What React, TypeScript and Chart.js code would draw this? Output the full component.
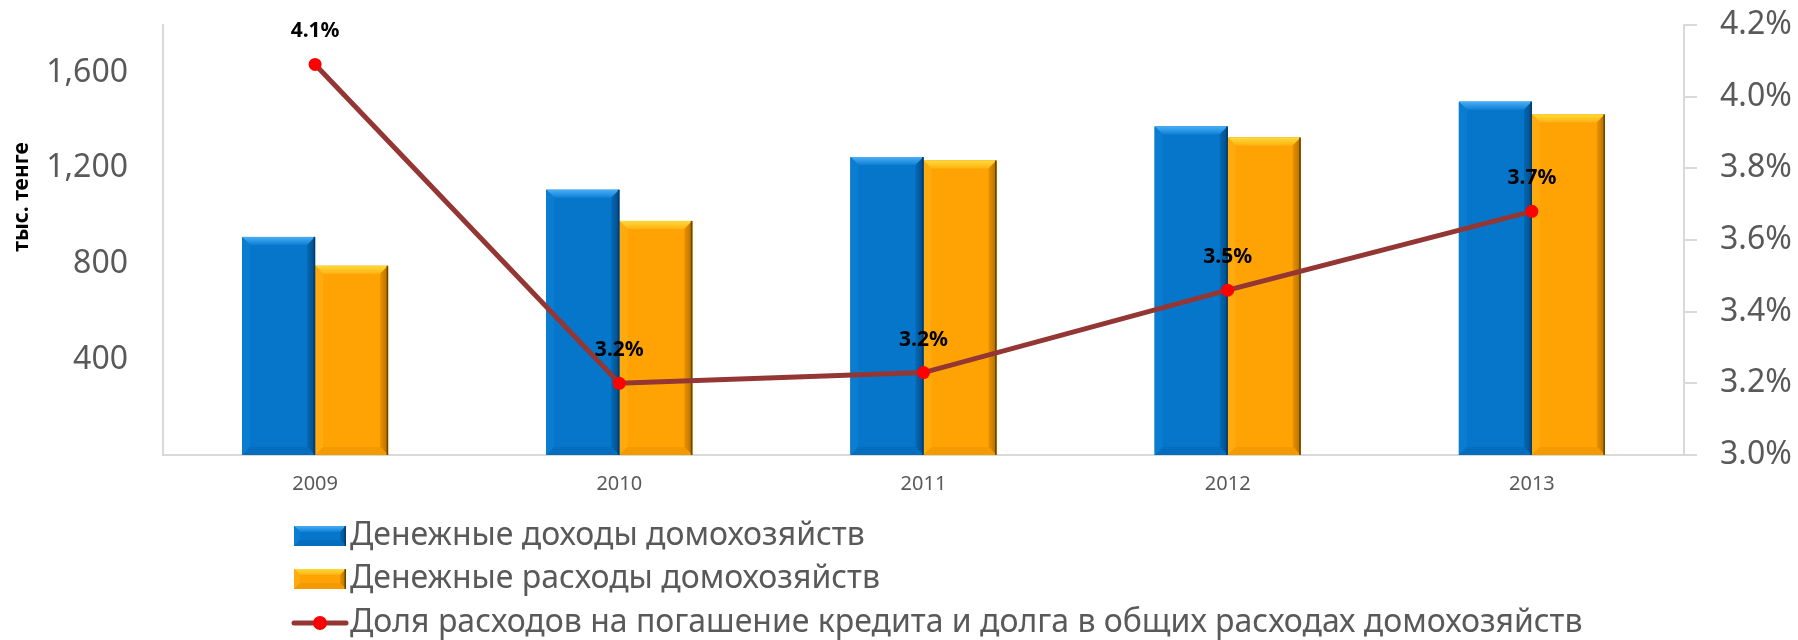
import React, { useEffect, useRef } from 'react';
import { Chart, registerables } from 'chart.js';

Chart.register(...registerables);

// ---- data ----
const years = ['2009', '2010', '2011', '2012', '2013'];
const incomeValues = [913, 1110, 1247, 1375, 1479];
const expenseValues = [792, 980, 1233, 1329, 1426];
const debtShareValues = [4.09, 3.2, 3.23, 3.46, 3.68];
const seriesNames = [
  'Денежные доходы домохозяйств',
  'Денежные расходы домохозяйств',
  'Доля расходов на погашение кредита и долга в общих расходах домохозяйств',
];
const yAxisTitle = 'тыс. тенге';

// ---- styles ----
const W = 1798;
const H = 640;
const FONT = "'Noto Sans', sans-serif";
const GRAY = '#595959';
const AXIS = '#D9D9D9';
const LINE_COLOR = '#943634';
const POINT_COLOR = '#FF0000';

type Pal = { main: string; topHi: string; top: string; left: string; right1: string; right2: string; bottom: string; edge: string };
const palettes: Pal[] = [
  { main: '#0576CA', topHi: '#4AAEF5', top: '#0E80D6', left: '#0A7DD1', right1: '#0568B4', right2: '#034C85', bottom: '#056DBD', edge: '#023E6E' },
  { main: '#FFA305', topHi: '#FFD93A', top: '#FFB412', left: '#FFAA0E', right1: '#E89200', right2: '#B36E00', bottom: '#F29A00', edge: '#6B4400' },
];

function bevel(ctx: CanvasRenderingContext2D, left: number, top: number, right: number, bottom: number, pal: Pal, b: number) {
  ctx.save();
  ctx.fillStyle = pal.main;
  ctx.fillRect(left, top, right - left, bottom - top);
  const poly = (pts: number[][], fill: string | CanvasGradient) => {
    ctx.beginPath();
    ctx.moveTo(pts[0][0], pts[0][1]);
    for (let i = 1; i < pts.length; i++) ctx.lineTo(pts[i][0], pts[i][1]);
    ctx.closePath();
    ctx.fillStyle = fill;
    ctx.fill();
  };
  const h = bottom - top;
  const bb = Math.min(b, h / 2, (right - left) / 2);
  const gTop = ctx.createLinearGradient(0, top, 0, top + bb);
  gTop.addColorStop(0, pal.topHi);
  gTop.addColorStop(1, pal.top);
  poly([[left, top], [right, top], [right - bb, top + bb], [left + bb, top + bb]], gTop);
  poly([[left, top], [left + bb, top + bb], [left + bb, bottom - bb], [left, bottom]], pal.left);
  const gR = ctx.createLinearGradient(right - bb, 0, right, 0);
  gR.addColorStop(0, pal.right1);
  gR.addColorStop(1, pal.right2);
  poly([[right, top], [right, bottom], [right - bb, bottom - bb], [right - bb, top + bb]], gR);
  poly([[left, bottom], [left + bb, bottom - bb], [right - bb, bottom - bb], [right, bottom]], pal.bottom);
  ctx.fillStyle = pal.edge;
  ctx.fillRect(right - 1.5, top, 1.5, h);
  ctx.restore();
}

const extrasPlugin = {
  id: 'extras',
  afterDatasetDraw(chart: any, args: any) {
    const meta = args.meta;
    if (meta.type !== 'bar') return;
    const pal = palettes[args.index];
    const ctx = chart.ctx;
    meta.data.forEach((el: any) => {
      const left = el.x - el.width / 2;
      const right = el.x + el.width / 2;
      const top = Math.min(el.y, el.base);
      const bottom = Math.max(el.y, el.base);
      bevel(ctx, left, top, right, bottom, pal, 8);
    });
  },
  afterDatasetsDraw(chart: any) {
    const ctx = chart.ctx;
    chart.data.datasets.forEach((ds: any, i: number) => {
      if (ds.type !== 'line') return;
      const meta = chart.getDatasetMeta(i);
      ctx.save();
      ctx.font = `bold 21px ${FONT}`;
      ctx.fillStyle = '#000000';
      ctx.textAlign = 'center';
      ctx.textBaseline = 'middle';
      meta.data.forEach((pt: any, j: number) => {
        ctx.fillText(Number(ds.data[j]).toFixed(1) + '%', pt.x, pt.y - 33);
      });
      ctx.restore();
    });
  },
  afterDraw(chart: any) {
    const ctx = chart.ctx;
    // y-axis title
    ctx.save();
    ctx.translate(22, 197);
    ctx.rotate(-Math.PI / 2);
    ctx.font = `bold 21px ${FONT}`;
    ctx.fillStyle = '#000000';
    ctx.textAlign = 'center';
    ctx.textBaseline = 'middle';
    ctx.fillText(yAxisTitle, 0, 0);
    ctx.restore();

    // legend (vertical list under the plot)
    const rowsY = [536, 579, 623];
    const sx = 294;
    const sw = 52;
    const sh = 20;
    const tx = 350;
    chart.data.datasets.forEach((ds: any, i: number) => {
      const cy = rowsY[i];
      if (ds.type === 'line') {
        ctx.save();
        ctx.strokeStyle = ds.borderColor;
        ctx.lineWidth = 5;
        ctx.lineCap = 'round';
        ctx.beginPath();
        ctx.moveTo(sx, cy);
        ctx.lineTo(sx + sw, cy);
        ctx.stroke();
        ctx.fillStyle = ds.pointBackgroundColor;
        ctx.beginPath();
        ctx.arc(sx + sw / 2, cy, 7, 0, Math.PI * 2);
        ctx.fill();
        ctx.restore();
      } else {
        bevel(ctx, sx, cy - sh / 2, sx + sw, cy + sh / 2, palettes[i], 6);
      }
      ctx.save();
      ctx.font = `32px ${FONT}`;
      ctx.fillStyle = GRAY;
      ctx.textAlign = 'left';
      ctx.textBaseline = 'middle';
      ctx.fillText(ds.label, tx, cy);
      ctx.restore();
    });
  },
};

const noPad = (s: any) => {
  s.paddingTop = 0;
  s.paddingBottom = 0;
};

export default function App() {
  const ref = useRef<HTMLCanvasElement | null>(null);
  useEffect(() => {
    if (!ref.current) return;
    const chart = new Chart(ref.current, {
      type: 'bar',
      data: {
        labels: years,
        datasets: [
          {
            type: 'bar',
            label: seriesNames[0],
            data: incomeValues,
            backgroundColor: palettes[0].main,
            yAxisID: 'y',
            order: 1,
            barPercentage: 1,
            categoryPercentage: 0.48,
          },
          {
            type: 'bar',
            label: seriesNames[1],
            data: expenseValues,
            backgroundColor: palettes[1].main,
            yAxisID: 'y',
            order: 1,
            barPercentage: 1,
            categoryPercentage: 0.48,
          },
          {
            type: 'line',
            label: seriesNames[2],
            data: debtShareValues,
            yAxisID: 'y1',
            order: 0,
            borderColor: LINE_COLOR,
            borderWidth: 5,
            tension: 0,
            fill: false,
            pointRadius: 6.5,
            pointBackgroundColor: POINT_COLOR,
            pointBorderColor: POINT_COLOR,
            pointBorderWidth: 0,
          },
        ] as any,
      },
      options: {
        responsive: false,
        animation: false,
        layout: { padding: { top: 25, left: 0, right: 0, bottom: 0 } },
        plugins: {
          legend: { display: false },
          tooltip: { enabled: false },
        },
        scales: {
          x: {
            grid: { display: false, drawTicks: false },
            border: { display: true, color: AXIS, width: 2 },
            ticks: { color: GRAY, font: { family: FONT, size: 20 }, padding: 17 },
            afterFit: (s: any) => {
              s.height = 185;
              s.paddingLeft = 0;
              s.paddingRight = 0;
            },
          },
          y: {
            position: 'left',
            min: 0,
            max: 1800,
            grid: { display: false, drawTicks: false },
            border: { display: true, color: AXIS, width: 2 },
            ticks: {
              stepSize: 400,
              color: GRAY,
              font: { family: FONT, size: 32 },
              padding: 35,
              callback: (v: any) => (v === 0 || v === 1800 ? '' : Number(v).toLocaleString('en-US')),
            },
            afterFit: (s: any) => {
              s.width = 163;
              noPad(s);
            },
          },
          y1: {
            position: 'right',
            min: 3.0,
            max: 4.2,
            grid: { display: true, drawOnChartArea: false, drawTicks: true, tickLength: 13, color: AXIS, lineWidth: 2 },
            border: { display: true, color: AXIS, width: 2 },
            ticks: {
              stepSize: 0.2,
              color: GRAY,
              font: { family: FONT, size: 32 },
              padding: 23,
              callback: (v: any) => Number(v).toFixed(1) + '%',
            },
            afterFit: (s: any) => {
              s.width = 114;
              noPad(s);
            },
          },
        },
      } as any,
      plugins: [extrasPlugin],
    });
    return () => chart.destroy();
  }, []);

  return (
    <div style={{ position: 'fixed', left: 0, top: 0, width: W, height: H, background: '#ffffff' }}>
      <canvas ref={ref} width={W} height={H} style={{ width: W, height: H, display: 'block' }} />
    </div>
  );
}
